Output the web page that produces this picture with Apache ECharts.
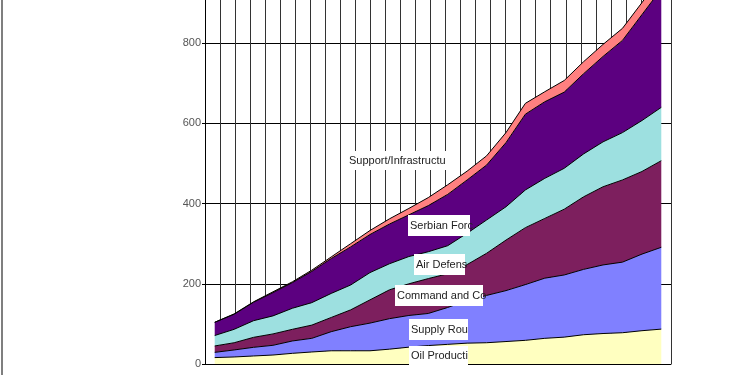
<!DOCTYPE html>
<html>
<head>
<meta charset="utf-8">
<script src="https://cdn.jsdelivr.net/npm/echarts@6/dist/echarts.min.js"></script>
<style>
  html, body { margin: 0; padding: 0; background: #fff; overflow: hidden; }
  /* the plot's top runs past the window, so the chart box starts above it */
  #chart { width: 750px; height: 412px; margin-top: -37px; }
</style>
</head>
<body>
<div id="chart"></div>
<script>
  // categories (their labels sit below the visible area)
  var categories = ['1', '2', '3', '4', '5', '6', '7', '8', '9', '10', '11', '12',
    '13', '14', '15', '16', '17', '18', '19', '20', '21', '22', '23', '24'];

  // stacked values, bottom to top
  var oilProduction = [16, 17.5, 20, 22.4, 26.6, 30, 33, 33, 33, 37, 42, 46, 49, 52, 53, 56, 59, 64, 67, 73, 76, 78, 83, 87];
  var supplyRoutes = [13, 17.5, 21.6, 24.2, 30.8, 34, 47.6, 60, 69, 76, 79, 80, 92, 106, 118, 127, 139, 150, 155, 163, 171, 176, 191, 204];
  var commandControl = [16, 18, 24.9, 28.4, 29.1, 33, 35.4, 42, 58, 72, 79, 87, 84, 90, 105, 126, 142, 149, 164, 181, 195, 205, 206, 216];
  var airDefense = [26, 33.5, 41.5, 45, 52.5, 56, 60, 62, 68, 65, 68, 67, 70, 78, 83, 83, 94, 100, 102, 107, 112, 118, 127, 133];
  var serbianForces = [33, 37.5, 46, 58, 64, 78, 87, 95, 95, 99, 104, 115, 128, 133, 137, 160, 189, 191, 190, 200, 213, 230, 264, 295];
  var supportInfra = [0, 1, 1, 2, 2, 3, 4, 8, 10, 13, 16, 20, 24, 22, 23, 25, 27, 25, 29, 30, 30, 30, 30, 30];

  var yTicks = { min: 0, max: 1000, interval: 200 };

  // the chart box is shifted up by this much
  var shift = 37;

  var chart = echarts.init(document.getElementById('chart'));

  function areaSeries(name, data, color) {
    return {
      name: name,
      type: 'line',
      stack: 'total',
      data: data,
      xAxisIndex: 0,
      showSymbol: false,
      symbol: 'none',
      lineStyle: { color: '#000', width: 1 },
      areaStyle: { color: color, opacity: 1 },
      emphasis: { disabled: true }
    };
  }

  // white text box with the (cut off) series name in it
  function nameBox(text, x, y, w, h) {
    return [
      {
        type: 'rect',
        z: 100,
        shape: { x: x, y: y + shift, width: w, height: h },
        style: { fill: '#fff' }
      },
      {
        type: 'text',
        z: 101,
        x: x + 2,
        y: y + shift + h / 2,
        style: {
          text: text,
          font: '11px "Liberation Sans", Arial, sans-serif',
          fill: '#222',
          verticalAlign: 'middle'
        }
      }
    ];
  }

  var boxes = [].concat(
    nameBox('Support/Infrastructu', 347, 151, 100, 19),
    nameBox('Serbian Forc', 408, 215, 62, 21),
    nameBox('Air Defens', 414, 254, 51, 21),
    nameBox('Command and Co', 395, 285, 88, 21),
    nameBox('Supply Rou', 409, 319, 59, 21),
    nameBox('Oil Producti', 409, 346, 59, 19)
  );

  chart.setOption({
    animation: false,
    grid: { left: 205, right: 79, top: 0, bottom: 11, containLabel: false, outerBoundsMode: 'none' },
    xAxis: [
      {
        type: 'category',
        data: categories,
        boundaryGap: true,
        axisLine: { lineStyle: { color: '#000', width: 1 } },
        axisTick: { length: 12, lineStyle: { color: '#333' } },
        axisLabel: { show: false },
        splitLine: { show: false }
      },
      {
        // only used for the dense vertical grid
        type: 'value',
        min: 0,
        max: 31,
        interval: 1,
        position: 'bottom',
        axisLine: { show: false },
        axisTick: { show: false },
        axisLabel: { show: false },
        splitLine: { show: true, lineStyle: { color: '#333', width: 1 } }
      }
    ],
    yAxis: {
      type: 'value',
      min: yTicks.min,
      max: yTicks.max,
      interval: yTicks.interval,
      axisLine: { show: true, lineStyle: { color: '#000' } },
      axisTick: { show: true, length: 3, lineStyle: { color: '#000' } },
      axisLabel: {
        color: '#555',
        fontSize: 11,
        fontFamily: '"Liberation Sans", Arial, sans-serif',
        margin: 4
      },
      splitLine: { show: true, lineStyle: { color: '#000', width: 1 } }
    },
    series: [
      areaSeries('Oil Production', oilProduction, '#FFFFC0'),
      areaSeries('Supply Routes', supplyRoutes, '#8080FF'),
      areaSeries('Command and Control', commandControl, '#7D1F5E'),
      areaSeries('Air Defense', airDefense, '#9DE0E0'),
      areaSeries('Serbian Forces', serbianForces, '#5C0080'),
      areaSeries('Support/Infrastructure', supportInfra, '#FF8080')
    ],
    graphic: [
      {
        type: 'line',
        shape: { x1: 2, y1: shift, x2: 2, y2: 375 + shift },
        style: { stroke: '#555', lineWidth: 1.5 }
      }
    ].concat(boxes)
  });
</script>
</body>
</html>
